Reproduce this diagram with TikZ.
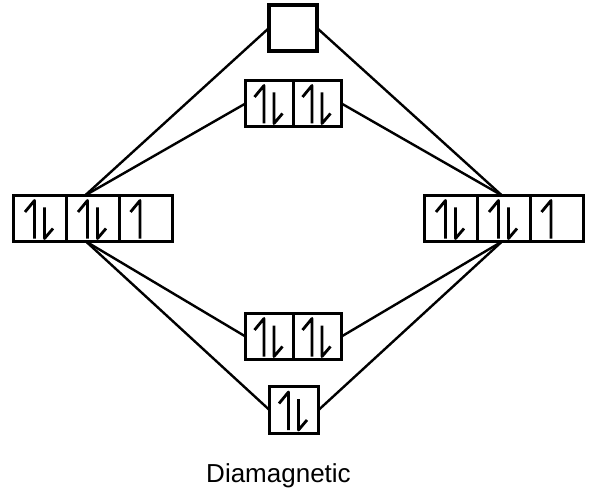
\documentclass[tikz,border=0pt]{standalone}
\usepackage{fontspec}
\setmainfont{Liberation Sans}
\begin{document}
\begin{tikzpicture}[x=1pt,y=-1pt,
  cellbig/.style={draw,line width=3.4pt,minimum width=53pt,minimum height=46pt,inner sep=0pt,outer sep=0pt},
  cellsmall/.style={draw,line width=3.4pt,minimum width=48pt,minimum height=46pt,inner sep=0pt,outer sep=0pt},
  link/.style={line width=2.4pt},
  harp/.style={line width=2.8pt,line join=round},
  pics/pairarrows/.style={code={
    \draw[harp] (-5.5,20) -- (-5.5,-18) -- (-15,-6.5);
    \draw[harp] (4.5,-11) -- (4.5,20) -- (13,10);
  }},
  pics/singlearrow/.style={code={
    \draw[harp] (-6,20) -- (-6,-18) -- (-15.5,-6.5);
  }}]
\useasboundingbox (0,0) rectangle (596,494);
% connectors (drawn first, boxes on top)
\coordinate (LT) at (85,195.5);
\coordinate (LB) at (86,241.5);
\coordinate (RT) at (502,195.5);
\coordinate (RB) at (502,241.5);
% left atom
\node[cellbig] (L1) at (40,218.5) {};
\node[cellbig] (L2) at (93,218.5) {};
\node[cellbig] (L3) at (146,218.5) {};
\pic at (L1.center) {pairarrows};
\pic at (L2.center) {pairarrows};
\pic at (L3.center) {singlearrow};
% right atom
\node[cellbig] (R1) at (451,218.5) {};
\node[cellbig] (R2) at (504,218.5) {};
\node[cellbig] (R3) at (557,218.5) {};
\pic at (R1.center) {pairarrows};
\pic at (R2.center) {pairarrows};
\pic at (R3.center) {singlearrow};
% molecular orbitals
\node[cellsmall] (T) at (293,28) {};
\node[cellsmall] (P1) at (269.5,103.5) {};
\node[cellsmall] (P2) at (317.5,103.5) {};
\pic at (P1.center) {pairarrows};
\pic at (P2.center) {pairarrows};
\node[cellsmall] (Q1) at (269.5,336.5) {};
\node[cellsmall] (Q2) at (317.5,336.5) {};
\pic at (Q1.center) {pairarrows};
\pic at (Q2.center) {pairarrows};
\node[cellsmall,minimum width=49pt,minimum height=47pt] (B) at (294,410) {};
\pic at (B.center) {pairarrows};
% connectors
\draw[link] (LT) -- (T.west);
\draw[link] (LT) -- (P1.west);
\draw[link] (RT) -- (T.east);
\draw[link] (RT) -- (P2.east);
\draw[link] (LB) -- (Q1.west);
\draw[link] (LB) -- (B.west);
\draw[link] (RB) -- (Q2.east);
\draw[link] (RB) -- (B.east);
% label
\node[anchor=base,inner sep=0pt,font=\fontsize{26}{30}\selectfont] (lab) at (278.5,482.5) {Diamagnetic};
\end{tikzpicture}
\end{document}
